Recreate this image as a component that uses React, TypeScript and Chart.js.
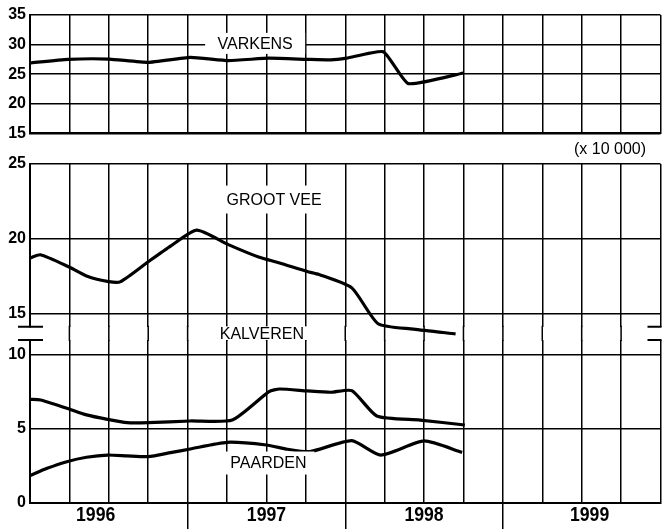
import React, { useEffect, useRef } from 'react';
import { Chart, registerables } from 'chart.js';

Chart.register(...registerables);

// ---------------- data ----------------
// x values are months since the start of 1996
const gridMonths = [0, 3, 6, 9, 12, 15, 18, 21, 24, 27, 30, 33, 36, 39, 42, 45, 48];
const yearLabels = ['1996', '1997', '1998', '1999'];
const yearLabelMonths = [5, 18, 30, 42.6];
const yearBoundaryMonths = [12, 24, 36];

const varkensTicks = [15, 20, 25, 30, 35];
const grootVeeTicks = [15, 20, 25];
const lowerTicks = [0, 5, 10];

const varkensMonths = [0, 2.9, 6, 9, 12.2, 15.1, 18.2, 21.1, 22.9, 24.1, 26.9, 28.8, 33];
const varkensValues = [26.9, 27.5, 27.55, 27.0, 27.85, 27.3, 27.7, 27.5, 27.4, 27.7, 28.8, 23.4, 25.2];

const grootVeeMonths = [0, 0.8, 2.9, 4.3, 6, 6.9, 9, 10.7, 12.7, 15.1, 17.4, 19, 21.1, 22, 24.5, 26.5, 29.2, 32.4];
const grootVeeValues = [18.7, 18.92, 18.13, 17.5, 17.12, 17.12, 18.45, 19.5, 20.57, 19.6, 18.77, 18.37, 17.8, 17.6, 16.7, 14.3, 13.94, 13.62];

const kalverenMonths = [0, 0.8, 2.8, 4.3, 5.9, 7.4, 9, 12.2, 15.4, 18.2, 19, 21.1, 22.9, 24.5, 26.4, 29.7, 33.1];
const kalverenValues = [7.0, 6.96, 6.4, 5.95, 5.65, 5.43, 5.43, 5.54, 5.6, 7.52, 7.7, 7.57, 7.48, 7.59, 5.88, 5.6, 5.27];

const paardenMonths = [0, 1.3, 2.8, 4.3, 5.9, 7.4, 9, 10.7, 12.2, 15, 18, 19.6, 21.3, 24.5, 26.7, 30, 32.9];
const paardenValues = [1.85, 2.34, 2.79, 3.09, 3.24, 3.18, 3.13, 3.4, 3.65, 4.1, 3.92, 3.63, 3.47, 4.21, 3.24, 4.19, 3.42];

// ---------------- styling ----------------
const W = 663;
const H = 531;
const SANS = '"Liberation Sans", Arial, Helvetica, sans-serif';
const tickFont = { family: SANS, size: 16, weight: 'bold' as const };
const GRID_W = 1.5;
const BORDER_W = 2;
const LINE_W = 3.2;

type Note = { text: string; x: number; y: number; bw: number; bh: number; align?: CanvasTextAlign; box?: boolean };

const xy = (ms: number[], vs: number[]) => ms.map((m, i) => ({ x: m, y: vs[i] }));

function xGrid(showBorder: boolean, yearTicks: boolean) {
  return {
    type: 'linear',
    min: 0,
    max: 48,
    afterBuildTicks: (s: any) => {
      s.ticks = gridMonths.map((v) => ({ value: v }));
    },
    ticks: { display: false },
    grid: {
      color: '#000',
      lineWidth: GRID_W,
      drawTicks: yearTicks,
      tickLength: 26,
      tickWidth: 1.5,
      tickColor: (c: any) =>
        c.tick && yearBoundaryMonths.includes(c.tick.value) ? '#000' : 'rgba(0,0,0,0)',
    },
    border: { display: showBorder, color: '#000', width: BORDER_W },
    afterFit: (s: any) => {
      s.height = 0;
    },
  };
}

function yAxis(min: number, max: number, ticks: number[]) {
  return {
    type: 'linear',
    min,
    max,
    afterBuildTicks: (s: any) => {
      s.ticks = ticks.map((v) => ({ value: v }));
    },
    ticks: { color: '#000', font: tickFont, padding: 4 },
    grid: { color: '#000', lineWidth: GRID_W, drawTicks: false },
    border: { color: '#000', width: BORDER_W },
    afterFit: (s: any) => {
      s.width = 30;
    },
  };
}

function dataset(ms: number[], vs: number[], tension: number, clip: any = undefined) {
  const d: any = {
    data: xy(ms, vs),
    borderColor: '#000',
    borderWidth: LINE_W,
    pointRadius: 0,
    tension,
    borderCapStyle: 'butt',
    borderJoinStyle: 'round',
    fill: false,
  };
  if (clip !== undefined) d.clip = clip;
  return d;
}

function decoPlugin(
  notes: Note[],
  gap: null | { below: number },
  bracketTop: boolean,
  bracketBottom: boolean,
  years: boolean
) {
  return {
    id: 'deco',
    afterDraw(chart: any) {
      const { ctx, chartArea, scales } = chart;
      const x = scales.x;
      const y = scales.y;
      ctx.save();
      ctx.strokeStyle = '#000';
      // vertical grid lines continuing through the axis break
      if (gap) {
        ctx.lineWidth = GRID_W;
        gridMonths.forEach((m) => {
          if (m === 0 || m === 48) return;
          const px = x.getPixelForValue(m);
          ctx.beginPath();
          ctx.moveTo(px, chartArea.bottom - 1);
          ctx.lineTo(px, chartArea.bottom + gap.below + 1);
          ctx.stroke();
        });
      }
      ctx.lineWidth = BORDER_W;
      const brk = (py: number) => {
        ctx.beginPath();
        ctx.moveTo(chartArea.left - 12, py);
        ctx.lineTo(chartArea.left + 13, py);
        ctx.moveTo(chartArea.right - 13, py);
        ctx.lineTo(chartArea.right + 1, py);
        ctx.stroke();
      };
      if (bracketBottom) brk(chartArea.bottom);
      if (bracketTop) brk(chartArea.top);
      // text notes on white boxes
      notes.forEach((n) => {
        const px = x.getPixelForValue(n.x);
        const py = y.getPixelForValue(n.y);
        const align = n.align || 'center';
        if (n.box !== false) {
          ctx.fillStyle = '#fff';
          const left = align === 'center' ? px - n.bw / 2 : align === 'right' ? px - n.bw : px;
          ctx.fillRect(left, py - n.bh / 2, n.bw, n.bh);
        }
        ctx.fillStyle = '#000';
        ctx.font = `16px ${SANS}`;
        ctx.textAlign = align;
        ctx.textBaseline = 'middle';
        ctx.fillText(n.text, px, py + 1);
      });
      // year labels under the lower panel
      if (years) {
        ctx.fillStyle = '#000';
        ctx.font = `bold 21px ${SANS}`;
        ctx.textAlign = 'center';
        ctx.textBaseline = 'middle';
        yearLabelMonths.forEach((m, i) => {
          const px = x.getPixelForValue(m);
          ctx.save();
          ctx.translate(px, chartArea.bottom + 12);
          ctx.scale(0.84, 1);
          ctx.fillText(yearLabels[i], 0, 0);
          ctx.restore();
        });
      }
      ctx.restore();
    },
  };
}

function baseOptions(padTop: number, padBottom: number, scales: any) {
  return {
    animation: false,
    responsive: false,
    maintainAspectRatio: false,
    events: [],
    layout: { padding: { left: 0, right: 2.5, top: padTop, bottom: padBottom } },
    plugins: { legend: { display: false }, tooltip: { enabled: false }, title: { display: false } },
    scales,
  };
}

export default function App() {
  const topRef = useRef<HTMLCanvasElement>(null);
  const midRef = useRef<HTMLCanvasElement>(null);
  const lowRef = useRef<HTMLCanvasElement>(null);

  useEffect(() => {
    const charts: Chart[] = [];

    // top panel: VARKENS
    charts.push(
      new Chart(topRef.current as HTMLCanvasElement, {
        type: 'line',
        data: { datasets: [dataset(varkensMonths, varkensValues, 0.15)] },
        options: baseOptions(15, H - 133.3, { x: xGrid(true, false), y: yAxis(15, 35, varkensTicks) }) as any,
        plugins: [
          decoPlugin(
            [
              { text: 'VARKENS', x: 17.14, y: 30.2, bw: 100, bh: 21 },
              { text: '(x 10 000)', x: 46.9, y: 12.4, bw: 0, bh: 0, align: 'right', box: false },
            ],
            null,
            false,
            false,
            false
          ),
        ],
      } as any)
    );

    // middle panel: GROOT VEE
    charts.push(
      new Chart(midRef.current as HTMLCanvasElement, {
        type: 'line',
        data: { datasets: [dataset(grootVeeMonths, grootVeeValues, 0.2, false)] },
        options: baseOptions(164, H - 326.7, { x: xGrid(false, false), y: yAxis(14.1, 25, grootVeeTicks) }) as any,
        plugins: [
          decoPlugin(
            [
              { text: 'GROOT VEE', x: 18.58, y: 22.62, bw: 110, bh: 28 },
              { text: 'KALVEREN', x: 17.65, y: 13.66, bw: 94, bh: 14 },
            ],
            { below: 13.3 },
            false,
            true,
            false
          ),
        ],
      } as any)
    );

    // lower panel: KALVEREN + PAARDEN
    charts.push(
      new Chart(lowRef.current as HTMLCanvasElement, {
        type: 'line',
        data: {
          datasets: [
            dataset(kalverenMonths, kalverenValues, 0.2),
            dataset(paardenMonths, paardenValues, 0.2),
          ],
        },
        options: baseOptions(340, H - 503, { x: xGrid(true, true), y: yAxis(0, 11.01, lowerTicks) }) as any,
        plugins: [decoPlugin([{ text: 'PAARDEN', x: 18.15, y: 2.7, bw: 92, bh: 23 }], null, true, false, true)],
      } as any)
    );

    return () => charts.forEach((c) => c.destroy());
  }, []);

  const cs: React.CSSProperties = { position: 'absolute', left: 0, top: 0 };
  return (
    <div style={{ position: 'absolute', left: 0, top: 0, width: W, height: H, background: '#fff' }}>
      <canvas ref={topRef} width={W} height={H} style={cs} />
      <canvas ref={midRef} width={W} height={H} style={cs} />
      <canvas ref={lowRef} width={W} height={H} style={cs} />
    </div>
  );
}
